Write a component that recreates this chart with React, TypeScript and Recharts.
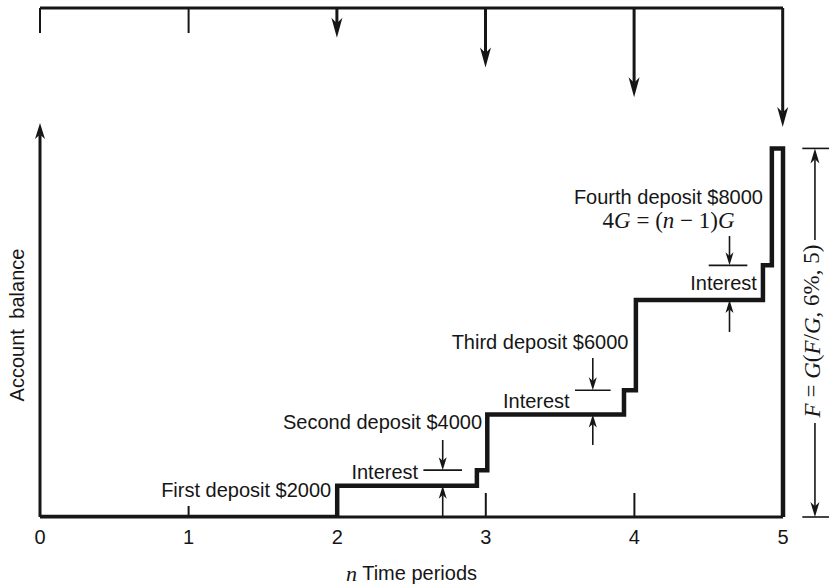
import React from 'react';
import { ComposedChart, Line, Bar, XAxis, YAxis, ReferenceLine, ReferenceDot } from 'recharts';

// ---- data ----
const periods = [0, 1, 2, 3, 4, 5];
const deposits = [0, 0, 2000, 4000, 6000, 8000];

// account balance step path (n, balance)
const balanceN = [0, 2, 2, 2.94, 2.94, 3.01, 3.01, 3.93, 3.93, 4.01, 4.01, 4.865, 4.865, 4.925, 4.925, 5, 5];
const balanceV = [0, 0, 1800, 1800, 2700, 2700, 5900, 5900, 7300, 7300, 12500, 12500, 14500, 14500, 21236, 21236, 0];
const futureValue = 21236;
const yMax = 22700;

// interest annotations
const interestN = [2.71, 3.72, 4.64];
const interestTop = [2700, 7300, 14500];
const interestBase = [1800, 5900, 12500];
const interestArrowFrom = [4436, 9160, 16190];
const interestArrowUpFrom = [0, 4150, 10660];
const interestBarFrom = [2.58, 3.6, 4.5];
const interestBarTo = [2.84, 3.84, 4.76];
const interestLabelN = [2.32, 3.34, 4.6];
const interestLabelV = [2590, 6680, 13480];

// deposit labels
const depositLabels = ['First deposit $2000', 'Second deposit $4000', 'Third deposit $6000', 'Fourth deposit $8000'];
const depositLabelN = [1.96, 2.975, 3.96, 4.865];
const depositLabelV = [1555, 5473, 10082, 18435];

const INK = '#161616';
const SANS = '"Liberation Sans", Arial, sans-serif';
const SERIF = '"Liberation Serif", "Times New Roman", serif';
const FS = 20;

const stepData = balanceN.map((n, i) => ({ n, b: balanceV[i] }));
const depositData = periods.map((n, i) => ({ n, d: deposits[i] }));

const bottomTickLen: Record<number, number> = { 0: 0, 1: 11, 2: 0, 3: 24, 4: 24, 5: 0 };

const makeArrow = (w: number, headLen: number, headHalf: number) => (p: any) => {
  const { x1, y1, x2, y2 } = p;
  const dx = x2 - x1;
  const dy = y2 - y1;
  const L = Math.hypot(dx, dy) || 1;
  const ux = dx / L, uy = dy / L;
  const px = -uy, py = ux;
  const bx = x2 - ux * headLen, by = y2 - uy * headLen;
  const nx = x2 - ux * headLen * 0.72, ny = y2 - uy * headLen * 0.72;
  const d = `M${x2},${y2} L${bx + px * headHalf},${by + py * headHalf} L${nx},${ny} L${bx - px * headHalf},${by - py * headHalf} Z`;
  return (
    <g>
      <line x1={x1} y1={y1} x2={nx} y2={ny} stroke={INK} strokeWidth={w} />
      <path d={d} fill={INK} />
    </g>
  );
};

const thinArrow = makeArrow(1.6, 13, 4);
const axisArrow = makeArrow(3, 16, 5);
const dimArrow = makeArrow(1.6, 15, 4.5);

const DepositArrow = (p: any) => {
  const { x, y, width, height } = p;
  if (x == null || y == null || height == null) return null;
  const cx = x + width / 2;
  const yTop = Math.min(y, y + height);
  const yBot = Math.max(y, y + height);
  if (yBot - yTop < 1) return null;
  return makeArrow(3, 20, 5.5)({ x1: cx, y1: yTop, x2: cx, y2: yBot });
};

const TopTick = (p: any) => {
  const { x, y } = p;
  return <line x1={x} y1={y} x2={x} y2={y + 25} stroke={INK} strokeWidth={2} />;
};

const BottomTick = (p: any) => {
  const { x, y, payload } = p;
  const len = bottomTickLen[payload.value] || 0;
  return (
    <g>
      {len > 0 && <line x1={x} y1={y} x2={x} y2={y - len} stroke={INK} strokeWidth={2} />}
      <text x={x} y={y + 27} textAnchor="middle" fontFamily={SANS} fontSize={FS} fill={INK}>
        {payload.value}
      </text>
    </g>
  );
};

const textShape = (content: React.ReactNode, anchor: string, opts: any = {}) => (p: any) => {
  const { cx, cy } = p;
  return (
    <text
      x={cx}
      y={cy}
      textAnchor={anchor}
      dominantBaseline="central"
      fontFamily={opts.font || SANS}
      fontSize={opts.size || FS}
      fill={INK}
      wordSpacing={opts.wordSpacing}
      transform={opts.rotate ? `rotate(${opts.rotate} ${cx} ${cy})` : undefined}
    >
      {content}
    </text>
  );
};

const it = (s: string) => <tspan fontStyle="italic">{s}</tspan>;

export default function App() {
  return (
    <div style={{ position: 'absolute', left: 0, top: 0, width: 829, height: 587, background: '#fff' }}>
      <div style={{ position: 'absolute', left: 0, top: 0 }}>
        <ComposedChart
          width={829}
          height={587}
          data={stepData}
          margin={{ top: 123, right: 46, bottom: 40, left: 40 }}
        >
          <XAxis
            type="number"
            dataKey="n"
            domain={[0, 5]}
            ticks={periods}
            interval={0}
            height={30}
            tickLine={false}
            tickSize={0}
            tickMargin={0}
            axisLine={{ stroke: INK, strokeWidth: 3 }}
            tick={BottomTick}
          />
          <YAxis type="number" domain={[0, yMax]} hide width={0} allowDataOverflow />
          <ReferenceLine
            segment={[{ x: 0, y: 0 }, { x: 0, y: yMax }]}
            ifOverflow="visible"
            shape={axisArrow}
          />
          <Line
            dataKey="b"
            type="linear"
            stroke={INK}
            strokeWidth={4.5}
            strokeLinejoin="miter"
            dot={false}
            isAnimationActive={false}
          />
          {interestN.map((n, i) => (
            <ReferenceLine
              key={'ia' + i}
              segment={[{ x: n, y: interestArrowFrom[i] }, { x: n, y: interestTop[i] }]}
              ifOverflow="visible"
              shape={thinArrow}
            />
          ))}
          {interestN.map((n, i) => (
            <ReferenceLine
              key={'iu' + i}
              segment={[{ x: n, y: interestArrowUpFrom[i] }, { x: n, y: interestBase[i] }]}
              ifOverflow="visible"
              shape={thinArrow}
            />
          ))}
          {interestN.map((n, i) => (
            <ReferenceLine
              key={'ib' + i}
              segment={[{ x: interestBarFrom[i], y: interestTop[i] }, { x: interestBarTo[i], y: interestTop[i] }]}
              ifOverflow="visible"
              stroke={INK}
              strokeWidth={1.6}
            />
          ))}
          {interestLabelN.map((n, i) => (
            <ReferenceDot key={'il' + i} x={n} y={interestLabelV[i]} r={0} ifOverflow="visible" shape={textShape('Interest', 'middle')} />
          ))}
          {depositLabels.map((s, i) => (
            <ReferenceDot key={'dl' + i} x={depositLabelN[i]} y={depositLabelV[i]} r={0} ifOverflow="visible" shape={textShape(s, 'end')} />
          ))}
          <ReferenceDot
            x={4.23}
            y={17110}
            r={0}
            ifOverflow="visible"
            shape={textShape(
              <>
                4{it('G')} = ({it('n')} − 1){it('G')}
              </>,
              'middle',
              { font: SERIF, size: 23 }
            )}
          />
          {/* right dimension F */}
          <ReferenceLine segment={[{ x: 5.13, y: futureValue }, { x: 5.33, y: futureValue }]} ifOverflow="visible" stroke={INK} strokeWidth={1.6} />
          <ReferenceLine segment={[{ x: 5.13, y: 0 }, { x: 5.33, y: 0 }]} ifOverflow="visible" stroke={INK} strokeWidth={1.6} />
          <ReferenceLine segment={[{ x: 5.215, y: 15958 }, { x: 5.215, y: futureValue }]} ifOverflow="visible" shape={dimArrow} />
          <ReferenceLine segment={[{ x: 5.215, y: 5415 }, { x: 5.215, y: 0 }]} ifOverflow="visible" shape={dimArrow} />
          <ReferenceDot
            x={5.195}
            y={10715}
            r={0}
            ifOverflow="visible"
            shape={textShape(
              <>
                {it('F')} = {it('G')}({it('F')}/{it('G')}, 6%, 5)
              </>,
              'middle',
              { font: SERIF, size: 23, rotate: -90 }
            )}
          />
          <ReferenceDot x={-0.155} y={11061} r={0} ifOverflow="visible" shape={textShape('Account balance', 'middle', { rotate: -90, wordSpacing: 5 })} />
          <ReferenceDot
            x={2.5}
            y={-3200}
            r={0}
            ifOverflow="visible"
            shape={textShape(
              <>
                <tspan fontFamily={SERIF} fontStyle="italic" fontSize={22}>n</tspan> Time periods
              </>,
              'middle'
            )}
          />
        </ComposedChart>
      </div>
      <div style={{ position: 'absolute', left: 0, top: 0 }}>
        <ComposedChart
          width={829}
          height={140}
          data={depositData}
          margin={{ top: 6, right: 46, bottom: 13, left: 40 }}
        >
          <XAxis
            type="number"
            dataKey="n"
            domain={[0, 5]}
            orientation="top"
            height={2}
            ticks={[0, 1]}
            interval={0}
            tickLine={false}
            tickSize={0}
            tickMargin={0}
            axisLine={{ stroke: INK, strokeWidth: 3 }}
            tick={TopTick}
          />
          <YAxis type="number" domain={[0, 8000]} reversed hide width={0} allowDataOverflow />
          <Bar dataKey="d" barSize={4} shape={DepositArrow} isAnimationActive={false} />
        </ComposedChart>
      </div>
    </div>
  );
}
